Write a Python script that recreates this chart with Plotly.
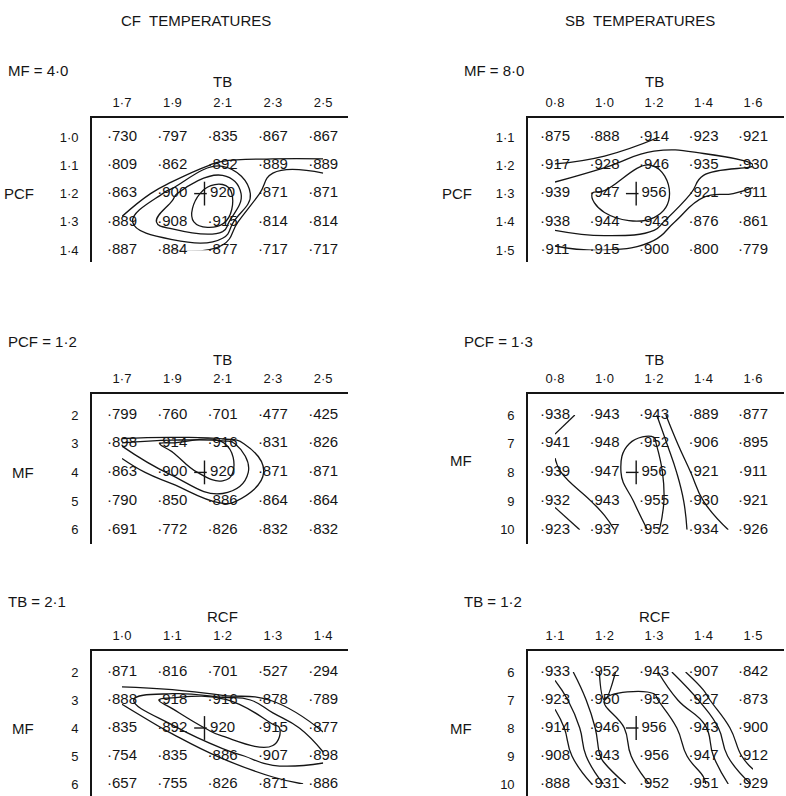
import plotly.graph_objects as go

W, H = 786, 796
FONT = "Liberation Sans"
INK = "#151515"

# ---------------- data ----------------
# CF temperatures, MF = 4.0 : rows PCF, columns TB
cf1_cols = ["1·7", "1·9", "2·1", "2·3", "2·5"]
cf1_rows = ["1·0", "1·1", "1·2", "1·3", "1·4"]
cf1_vals = [[730, 797, 835, 867, 867],
            [809, 862, 892, 889, 889],
            [863, 900, 920, 871, 871],
            [889, 908, 915, 814, 814],
            [887, 884, 877, 717, 717]]

# SB temperatures, MF = 8.0 : rows PCF, columns TB
sb1_cols = ["0·8", "1·0", "1·2", "1·4", "1·6"]
sb1_rows = ["1·1", "1·2", "1·3", "1·4", "1·5"]
sb1_vals = [[875, 888, 914, 923, 921],
            [917, 928, 946, 935, 930],
            [939, 947, 956, 921, 911],
            [938, 944, 943, 876, 861],
            [911, 915, 900, 800, 779]]

# CF temperatures, PCF = 1.2 : rows MF, columns TB
cf2_cols = ["1·7", "1·9", "2·1", "2·3", "2·5"]
cf2_rows = ["2", "3", "4", "5", "6"]
cf2_vals = [[799, 760, 701, 477, 425],
            [898, 914, 916, 831, 826],
            [863, 900, 920, 871, 871],
            [790, 850, 886, 864, 864],
            [691, 772, 826, 832, 832]]

# SB temperatures, PCF = 1.3 : rows MF, columns TB
sb2_cols = ["0·8", "1·0", "1·2", "1·4", "1·6"]
sb2_rows = ["6", "7", "8", "9", "10"]
sb2_vals = [[938, 943, 943, 889, 877],
            [941, 948, 952, 906, 895],
            [939, 947, 956, 921, 911],
            [932, 943, 955, 930, 921],
            [923, 937, 952, 934, 926]]

# CF temperatures, TB = 2.1 : rows MF, columns RCF
cf3_cols = ["1·0", "1·1", "1·2", "1·3", "1·4"]
cf3_rows = ["2", "3", "4", "5", "6"]
cf3_vals = [[871, 816, 701, 527, 294],
            [888, 918, 916, 878, 789],
            [835, 892, 920, 915, 877],
            [754, 835, 886, 907, 898],
            [657, 755, 826, 871, 886]]

# SB temperatures, TB = 1.2 : rows MF, columns RCF
sb3_cols = ["1·1", "1·2", "1·3", "1·4", "1·5"]
sb3_rows = ["6", "7", "8", "9", "10"]
sb3_vals = [[933, 952, 943, 907, 842],
            [923, 950, 952, 927, 873],
            [914, 946, 956, 943, 900],
            [908, 943, 956, 947, 912],
            [888, 931, 952, 951, 929]]

# contour levels (start, end, step) in the tables' units (thousandths)
cf1_levels = (884, 911, 9)
sb1_levels = (915, 945, 15)
cf2_levels = (880, 910, 15)
sb2_levels = (930, 950, 10)
cf3_levels = (880, 910, 15)
sb3_levels = (920, 950, 10)

panels = [
    dict(cols=cf1_cols, rows=cf1_rows, vals=cf1_vals, lv=cf1_levels,
         side="L", band="T", head="MF = 4·0", xt="TB", yt="PCF"),
    dict(cols=sb1_cols, rows=sb1_rows, vals=sb1_vals, lv=sb1_levels,
         side="R", band="T", head="MF = 8·0", xt="TB", yt="PCF"),
    dict(cols=cf2_cols, rows=cf2_rows, vals=cf2_vals, lv=cf2_levels,
         side="L", band="M", head="PCF = 1·2", xt="TB", yt="MF"),
    dict(cols=sb2_cols, rows=sb2_rows, vals=sb2_vals, lv=sb2_levels,
         side="R", band="M", head="PCF = 1·3", xt="TB", yt="MF"),
    dict(cols=cf3_cols, rows=cf3_rows, vals=cf3_vals, lv=cf3_levels,
         side="L", band="B", head="TB = 2·1", xt="RCF", yt="MF"),
    dict(cols=sb3_cols, rows=sb3_rows, vals=sb3_vals, lv=sb3_levels,
         side="R", band="B", head="TB = 1·2", xt="RCF", yt="MF"),
]

# ---------------- layout geometry (pixels) ----------------
SIDES = {"L": dict(vx=92, right=348, c0=122, dc=50.3, head_x=6, yt_x=36),
         "R": dict(vx=528, right=784, c0=555, dc=49.5, head_x=462, yt_x=474)}
BANDS = {"T": dict(hy=118, bottom=262, r0=137, dr=28.3, head_y=70, xt_y=82),
         "M": dict(hy=394, bottom=544, r0=415, dr=28.7, head_y=342, xt_y=359),
         "B": dict(hy=651, bottom=796, r0=672, dr=28.0, head_y=601, xt_y=616)}

fig = go.Figure()
annotations = []
layout_axes = {}


def px(x):
    return x / W


def py(y):
    return 1 - y / H


for k, p in enumerate(panels, start=1):
    s = SIDES[p["side"]]
    b = BANDS[p["band"]]
    xa = "x" if k == 1 else f"x{k}"
    ya = "y" if k == 1 else f"y{k}"
    xname = "xaxis" if k == 1 else f"xaxis{k}"
    yname = "yaxis" if k == 1 else f"yaxis{k}"

    ncol = len(p["cols"])
    nrow = len(p["rows"])
    xr = [(s["vx"] - s["c0"]) / s["dc"], (s["right"] - s["c0"]) / s["dc"]]
    yr = [(b["bottom"] - b["r0"]) / b["dr"], (b["hy"] - b["r0"]) / b["dr"]]

    layout_axes[xname] = dict(
        domain=[px(s["vx"]), px(s["right"])], range=xr, anchor=ya, side="top",
        showline=True, linecolor=INK, linewidth=1.6, mirror=False,
        showgrid=False, zeroline=False, ticks="", tickmode="array",
        tickvals=list(range(ncol)), ticktext=p["cols"],
        tickfont=dict(family=FONT, size=13, color=INK), ticklabelstandoff=4,
        fixedrange=True)
    layout_axes[yname] = dict(
        domain=[py(b["bottom"]), py(b["hy"])], range=yr, anchor=xa,
        showline=True, linecolor=INK, linewidth=1.6, mirror=False,
        showgrid=False, zeroline=False, ticks="", tickmode="array",
        tickvals=list(range(nrow)), ticktext=p["rows"],
        tickfont=dict(family=FONT, size=13, color=INK), ticklabelstandoff=9,
        fixedrange=True)

    vals = p["vals"]
    lo, hi, step = p["lv"]
    fig.add_trace(go.Contour(
        z=vals, x=list(range(ncol)), y=list(range(nrow)), xaxis=xa, yaxis=ya,
        contours=dict(coloring="lines", start=lo, end=hi, size=step,
                      showlabels=False),
        line=dict(width=1.3, smoothing=1.3),
        colorscale=[[0, INK], [1, INK]], showscale=False, hoverinfo="skip"))

    # optimum: first occurrence of the largest value
    br, bc, bv = 0, 0, vals[0][0]
    for r in range(nrow):
        for c in range(ncol):
            if vals[r][c] > bv:
                br, bc, bv = r, c, vals[r][c]

    xs, ys, txt = [], [], []
    for r in range(nrow):
        for c in range(ncol):
            xs.append(c)
            ys.append(r)
            txt.append(str(vals[r][c]) if (r, c) == (br, bc) else "·" + str(vals[r][c]))
    fig.add_trace(go.Scatter(
        x=xs, y=ys, text=txt, mode="text", xaxis=xa, yaxis=ya,
        textfont=dict(family=FONT, size=15, color=INK), cliponaxis=False,
        hoverinfo="skip", showlegend=False))

    # cross drawn just left of the optimum value
    fig.add_trace(go.Scatter(
        x=[bc - 0.36], y=[br], mode="markers", xaxis=xa, yaxis=ya,
        marker=dict(symbol="line-ns", size=17, line=dict(width=1.4, color=INK)),
        hoverinfo="skip", showlegend=False, cliponaxis=False))
    fig.add_trace(go.Scatter(
        x=[bc - 0.44], y=[br], mode="markers", xaxis=xa, yaxis=ya,
        marker=dict(symbol="line-ew", size=9, line=dict(width=1.4, color=INK)),
        hoverinfo="skip", showlegend=False, cliponaxis=False))

    # panel heading, axis titles
    annotations.append(dict(text=p["head"], x=px(s["head_x"]), y=py(b["head_y"]),
                            xref="paper", yref="paper", xanchor="left",
                            yanchor="middle", showarrow=False,
                            font=dict(family=FONT, size=15, color=INK)))
    annotations.append(dict(text=p["xt"], x=2, y=py(b["xt_y"]), xref=xa,
                            yref="paper", xanchor="center", yanchor="middle",
                            showarrow=False,
                            font=dict(family=FONT, size=15, color=INK)))
    mid_row = 2 if p["band"] != "M" or p["side"] == "L" else 1.6
    annotations.append(dict(text=p["yt"], x=px(s["yt_x"]), y=mid_row, xref="paper",
                            yref=ya, xanchor="right", yanchor="middle",
                            showarrow=False,
                            font=dict(family=FONT, size=15, color=INK)))

annotations.append(dict(text="CF  TEMPERATURES", x=px(196), y=py(20), xref="paper",
                        yref="paper", xanchor="center", yanchor="middle",
                        showarrow=False, font=dict(family=FONT, size=15, color=INK)))
annotations.append(dict(text="SB  TEMPERATURES", x=px(640), y=py(20), xref="paper",
                        yref="paper", xanchor="center", yanchor="middle",
                        showarrow=False, font=dict(family=FONT, size=15, color=INK)))

fig.update_layout(
    width=W, height=H, autosize=False,
    margin=dict(l=0, r=0, t=0, b=0, pad=0),
    paper_bgcolor="white", plot_bgcolor="white",
    showlegend=False, annotations=annotations, **layout_axes)

fig.write_html("out.html", config=dict(displayModeBar=False))
